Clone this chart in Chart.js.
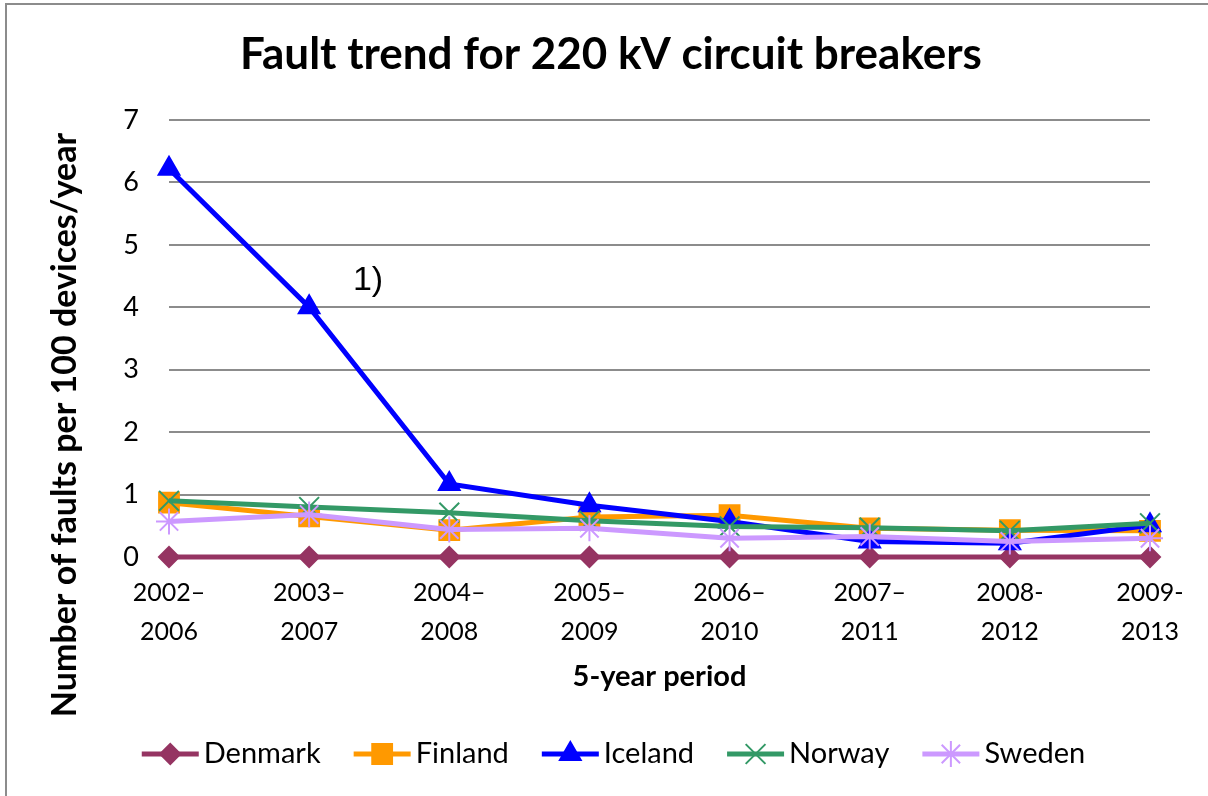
<!DOCTYPE html>
<html>
<head>
<meta charset="utf-8">
<script src="https://cdn.jsdelivr.net/npm/chart.js@4"></script>
<style>
  html, body { margin: 0; padding: 0; background: #fff; }
  #wrap { width: 1208px; height: 796px; }
</style>
</head>
<body>
<div id="wrap"><canvas id="grafico" width="1208" height="796"></canvas></div>
<script>
const periodos = ["2002–2006", "2003–2007", "2004–2008", "2005–2009", "2006–2010", "2007–2011", "2008-2012", "2009-2013"];
const denmark = [0, 0, 0, 0, 0, 0, 0, 0];
const finland = [0.87, 0.65, 0.43, 0.64, 0.67, 0.46, 0.43, 0.42];
const iceland = [6.22, 4.0, 1.17, 0.83, 0.57, 0.25, 0.22, 0.51];
const norway = [0.9, 0.8, 0.71, 0.58, 0.49, 0.47, 0.42, 0.54];
const sweden = [0.57, 0.68, 0.44, 0.46, 0.3, 0.33, 0.25, 0.3];
const yTicks = [0, 1, 2, 3, 4, 5, 6, 7];

const FONT = "Lato";

const series = [
    { label: "Denmark", data: denmark, color: "#953462", style: "rectRot", radius: 10 },
    { label: "Finland", data: finland, color: "#FF9900", style: "rect", radius: 14 },
    { label: "Iceland", data: iceland, color: "#0000FF", style: "triangle", radius: 12 },
    { label: "Norway", data: norway, color: "#339966", style: "crossRot", radius: 14 },
    { label: "Sweden", data: sweden, color: "#CC99FF", style: "star", radius: 13 },
];

// marco, títulos, nota y leyenda
const extras = {
    id: "extras",
    beforeDraw(chart) {
        const ctx = chart.ctx;
        ctx.save();
        ctx.fillStyle = "#fff";
        ctx.fillRect(0, 0, chart.width, chart.height);
        ctx.strokeStyle = "#8c8c8c";
        ctx.lineWidth = 2;
        ctx.beginPath();
        ctx.moveTo(6, chart.height);
        ctx.lineTo(6, 4);
        ctx.lineTo(chart.width, 4);
        ctx.stroke();
        ctx.restore();
    },
    afterDraw(chart) {
        const ctx = chart.ctx;
        ctx.save();
        ctx.fillStyle = "#000";
        ctx.textAlign = "center";
        ctx.textBaseline = "middle";
        ctx.font = "bold 44px " + FONT;
        ctx.fillText("Fault trend for 220 kV circuit breakers", 611, 55);

        // titulo eje y
        ctx.translate(65, 425);
        ctx.rotate(-Math.PI / 2);
        ctx.font = "bold 34px " + FONT;
        ctx.fillText("Number of faults per 100 devices/year", 0, 0);
        ctx.restore();

        // nota 1)
        const xs = chart.scales.x, ys = chart.scales.y;
        ctx.save();
        ctx.font = "34px 'Liberation Sans'";
        ctx.fillStyle = "#000";
        ctx.textAlign = "center";
        ctx.textBaseline = "middle";
        ctx.fillText("1)", xs.getPixelForValue(1.42), ys.getPixelForValue(4.43));
        ctx.restore();

        // leyenda
        ctx.save();
        ctx.font = "29px " + FONT;
        const lineLen = 57, gapTxt = 5, gapItem = 33;
        let total = 0;
        series.forEach((s, i) => {
            total += lineLen + gapTxt + ctx.measureText(s.label).width;
            if (i < series.length - 1) total += gapItem;
        });
        let x = 145 + (1082 - 145 - total) / 2;
        const y = 754;
        series.forEach((s) => {
            ctx.strokeStyle = s.color;
            ctx.fillStyle = s.color;
            ctx.lineWidth = 5;
            ctx.beginPath();
            ctx.moveTo(x, y);
            ctx.lineTo(x + lineLen, y);
            ctx.stroke();
            ctx.lineWidth = 2;
            Chart.helpers.drawPoint(ctx, {
                pointStyle: s.style,
                radius: s.radius,
                borderWidth: 2,
                rotation: 0,
            }, x + lineLen / 2, y);
            ctx.fillStyle = "#000";
            ctx.textBaseline = "middle";
            ctx.textAlign = "left";
            ctx.fillText(s.label, x + lineLen + gapTxt, y);
            x += lineLen + gapTxt + ctx.measureText(s.label).width + gapItem;
        });
        ctx.restore();
    },
};

const ctxGrafico = document.getElementById("grafico").getContext("2d");
new Chart(ctxGrafico, {
    type: "line",
    data: {
        labels: periodos,
        datasets: series.map((s, i) => ({
            label: s.label,
            data: s.data,
            borderColor: s.color,
            backgroundColor: s.color,
            pointBackgroundColor: s.color,
            pointBorderColor: s.color,
            pointStyle: s.style,
            pointRadius: s.radius,
            pointBorderWidth: 2,
            borderWidth: 5,
            tension: 0,
            clip: false,
            order: series.length - i,
        })),
    },
    plugins: [extras],
    options: {
        responsive: false,
        animation: false,
        layout: { padding: { left: 0, right: 58, top: 120, bottom: 99 } },
        plugins: {
            legend: { display: false },
            tooltip: { enabled: false },
            title: { display: false },
        },
        scales: {
            x: {
                offset: false,
                grid: { display: false, drawTicks: false },
                border: { display: true, color: "#8c8c8c", width: 2 },
                ticks: {
                    color: "#000",
                    padding: 17,
                    maxRotation: 0,
                    autoSkip: false,
                    font: { family: FONT, size: 25, lineHeight: 1.55 },
                    callback: function (v) {
                        const s = this.getLabelForValue(v);
                        return [s.slice(0, 5), s.slice(5)];
                    },
                },
                title: {
                    display: true,
                    text: "5-year period",
                    color: "#000",
                    font: { family: FONT, size: 29, weight: "bold", lineHeight: 1.2 },
                    padding: { top: 0, bottom: 3 },
                },
                afterFit(scale) { scale.height = 140; },
            },
            y: {
                min: 0,
                max: 7,
                afterBuildTicks(scale) { scale.ticks = yTicks.map((v) => ({ value: v })); },
                grid: { color: "#8c8c8c", lineWidth: 2, drawTicks: false },
                border: { display: false },
                ticks: {
                    color: "#000",
                    padding: 30,
                    font: { family: FONT, size: 27 },
                },
                afterFit(scale) { scale.width = 169; },
            },
        },
    },
});
</script>
</body>
</html>
